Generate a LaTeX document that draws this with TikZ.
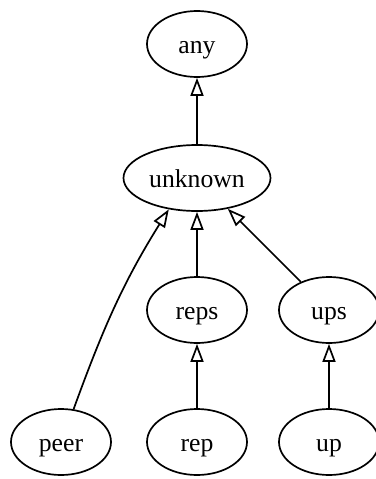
\documentclass[tikz,border=0pt]{standalone}
\usepackage{fontspec}
\setmainfont{Liberation Serif}
\usetikzlibrary{shapes.geometric,arrows.meta}
\begin{document}
\begin{tikzpicture}[x=1pt,y=-1pt,
  nd/.style={draw,ellipse,line width=1.7pt,minimum width=100pt,minimum height=66pt,inner sep=0pt,text height=19pt,text depth=0pt,font=\fontsize{25.7}{30}\selectfont},
  ed/.style={line width=1.7pt,-{Triangle[open,length=18pt,width=13pt]}}]
\useasboundingbox (0,0) rectangle (375,479);
\node[nd] (any) at (197,44) {any};
\node[nd,minimum width=147pt] (unknown) at (197,178) {unknown};
\node[nd] (reps) at (197,310) {reps};
\node[nd] (ups) at (329,310) {ups};
\node[nd] (peer) at (61,442) {peer};
\node[nd] (rep) at (197,442) {rep};
\node[nd] (up) at (329,442) {up};
\draw[ed] (unknown) -- (any);
\draw[ed] (reps) -- (unknown);
\draw[ed] (ups) -- (unknown);
\draw[ed] (peer.69) to[out=70,in=238] (unknown.228);
\draw[ed] (rep) -- (reps);
\draw[ed] (up) -- (ups);
\end{tikzpicture}
\end{document}
